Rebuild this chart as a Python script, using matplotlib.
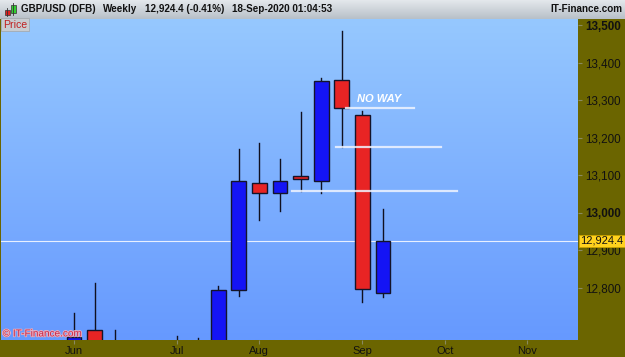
import numpy as np
import matplotlib
matplotlib.use("Agg")
import matplotlib.pyplot as plt
from matplotlib.patches import Rectangle
import matplotlib.patheffects as pe

plt.rcParams['font.family'] = ['Liberation Sans', 'DejaVu Sans']

# ---- data (weekly candles, week index 0 = 1 Jun 2020) ----
weeks  = [0, 1, 2, 5, 6, 7, 8, 9, 10, 11, 12, 13, 14, 15]
opens  = [12345, 12687, 12560, 12485, 12610, 12570, 12793, 13079, 13052, 13097, 13084, 13353, 13260, 12785]
highs  = [12732, 12812, 12687, 12671, 12665, 12804, 13169, 13185, 13143, 13268, 13359, 13484, 13271, 13009]
lows   = [12300, 12500, 12300, 12450, 12500, 12480, 12777, 12980, 13004, 13057, 13052, 13175, 12761, 12775]
closes = [12668, 12557, 12335, 12618, 12545, 12793, 13085, 13052, 13084, 13089, 13351, 13279, 12796, 12924]

month_labels = ['Jun', 'Jul', 'Aug', 'Sep', 'Oct', 'Nov']
month_pos    = [0, 5, 9, 14, 18, 22]
y_ticks      = [12800, 12900, 13000, 13100, 13200, 13300, 13400, 13500]
last_price   = 12924.4

# annotation levels (lines drawn by the chartist)
ann_levels = [13279, 13176, 13057]
ann_x0     = [13.2, 12.7, 10.6]
ann_x1     = [16.5, 17.8, 18.6]

W, H = 625, 357
fig = plt.figure(figsize=(W/100, H/100), dpi=100)
fig.patch.set_facecolor('#6b6500')

# header band
hdr = fig.add_axes([0, 1-19/H, 1, 19/H])
grad = np.linspace(0, 1, 50).reshape(-1, 1)
hdr.imshow(grad, aspect='auto', cmap=matplotlib.colors.LinearSegmentedColormap.from_list('h', ['#e4e8ec', '#b8c0c8']),
           extent=[0, 1, 0, 1])
hdr.set_xlim(0, 1); hdr.set_ylim(0, 1); hdr.axis('off')

# main axes
ax = fig.add_axes([1/W, 17/H, 577/W, 321/H])
ymin, ymax = 12660, 13516
xmin, xmax = -3.54, 24.47
ax.set_xlim(xmin, xmax)
ax.set_ylim(ymin, ymax)
bg = np.linspace(0, 1, 256).reshape(-1, 1)
cmap_bg = matplotlib.colors.LinearSegmentedColormap.from_list('bg', ['#96c8fe', '#6699ff'])
ax.imshow(bg, aspect='auto', cmap=cmap_bg, extent=[xmin, xmax, ymin, ymax], origin='upper', zorder=0)

bw = 0.72
for i, o, h, l, c in zip(weeks, opens, highs, lows, closes):
    up = c >= o
    col = '#1414f5' if up else '#e82424'
    ax.plot([i, i], [l, h], color='#101020', lw=1.0, zorder=2)
    ax.add_patch(Rectangle((i - bw/2, min(o, c)), bw, max(abs(c - o), 2),
                           facecolor=col, edgecolor='#14142a', lw=1.0, zorder=3))

# current price line
ax.axhline(last_price, color='#e8f0ff', lw=0.8, zorder=1)

# chartist lines and text
for y, a, b in zip(ann_levels, ann_x0, ann_x1):
    ax.plot([a, b], [y, y], color='#f0f4ff', lw=1.6, alpha=0.85, zorder=4)
ax.text(13.75, 13303, 'NO WAY', color='white', fontsize=8, fontweight='bold',
        fontstyle='italic', ha='left', va='center', zorder=5)

# axes styling
for s in ax.spines.values():
    s.set_visible(False)
ax.yaxis.tick_right()
ax.set_yticks(y_ticks)
ax.set_yticklabels([f'{v:,}' for v in y_ticks])
ax.tick_params(axis='y', direction='out', length=3, width=0.8, color='#8a8a60', pad=2,
               labelsize=8.4, labelcolor='#111111')
for lbl, v in zip(ax.get_yticklabels(), y_ticks):
    if v in (13000, 13500):
        lbl.set_fontweight('bold')
ax.set_xticks(month_pos)
ax.set_xticklabels(month_labels)
ax.tick_params(axis='x', direction='out', length=3, width=0.8, color='#8a8a60', pad=1.5,
               labelsize=8, labelcolor='#111111')

# last price label
ax.text(1.004, (last_price - ymin)/(ymax - ymin), '12,924.4', transform=ax.transAxes,
        fontsize=8, color='#111111', ha='left', va='center', zorder=10, clip_on=False,
        bbox=dict(boxstyle='square,pad=0.12', facecolor='#ffd21e', edgecolor='#c8a000', lw=0.6))

# watermark
ax.text(0.003, 0.005, '© IT-Finance.com', transform=ax.transAxes, fontsize=7.2,
        color='#c8284a', ha='left', va='bottom', zorder=6,
        path_effects=[pe.withStroke(linewidth=1.2, foreground='#e8b0c0')])

# header texts
y_h = 1 - 9.5/H
hfs = 7.1
fig.text(21/W, y_h, 'GBP/USD (DFB)', fontsize=hfs, fontweight='bold', va='center', color='#111111')
fig.text(103/W, y_h, 'Weekly', fontsize=hfs, fontweight='bold', va='center', color='#111111')
fig.text(145/W, y_h, '12,924.4 (-0.41%)', fontsize=hfs, fontweight='bold', va='center', color='#111111')
fig.text(232/W, y_h, '18-Sep-2020 01:04:53', fontsize=hfs, fontweight='bold', va='center', color='#111111')
fig.text(622/W, y_h, 'IT-Finance.com', fontsize=hfs, fontweight='bold', va='center', ha='right', color='#111111')

# header icon
icon = fig.add_axes([2/W, 1-18/H, 15/W, 16/H])
icon.set_xlim(0, 15); icon.set_ylim(0, 16); icon.axis('off')
icon.plot([5, 5], [2, 10], color='#333', lw=0.6)
icon.add_patch(Rectangle((2.5, 3.5), 5, 5, facecolor='#e02020', edgecolor='#333', lw=0.5))
icon.plot([11, 11], [3, 15], color='#333', lw=0.6)
icon.add_patch(Rectangle((8.5, 5), 5, 8, facecolor='#30d030', edgecolor='#333', lw=0.5))

# "Price" tag
fig.text(3/W, 1-24.5/H, 'Price', fontsize=7.6, color='#c02020', va='center', ha='left',
         bbox=dict(boxstyle='square,pad=0.15', facecolor='#c8ccd0', edgecolor='#a0a4a8', lw=0.5))

fig.savefig('out.png', dpi=100, facecolor=fig.get_facecolor())
